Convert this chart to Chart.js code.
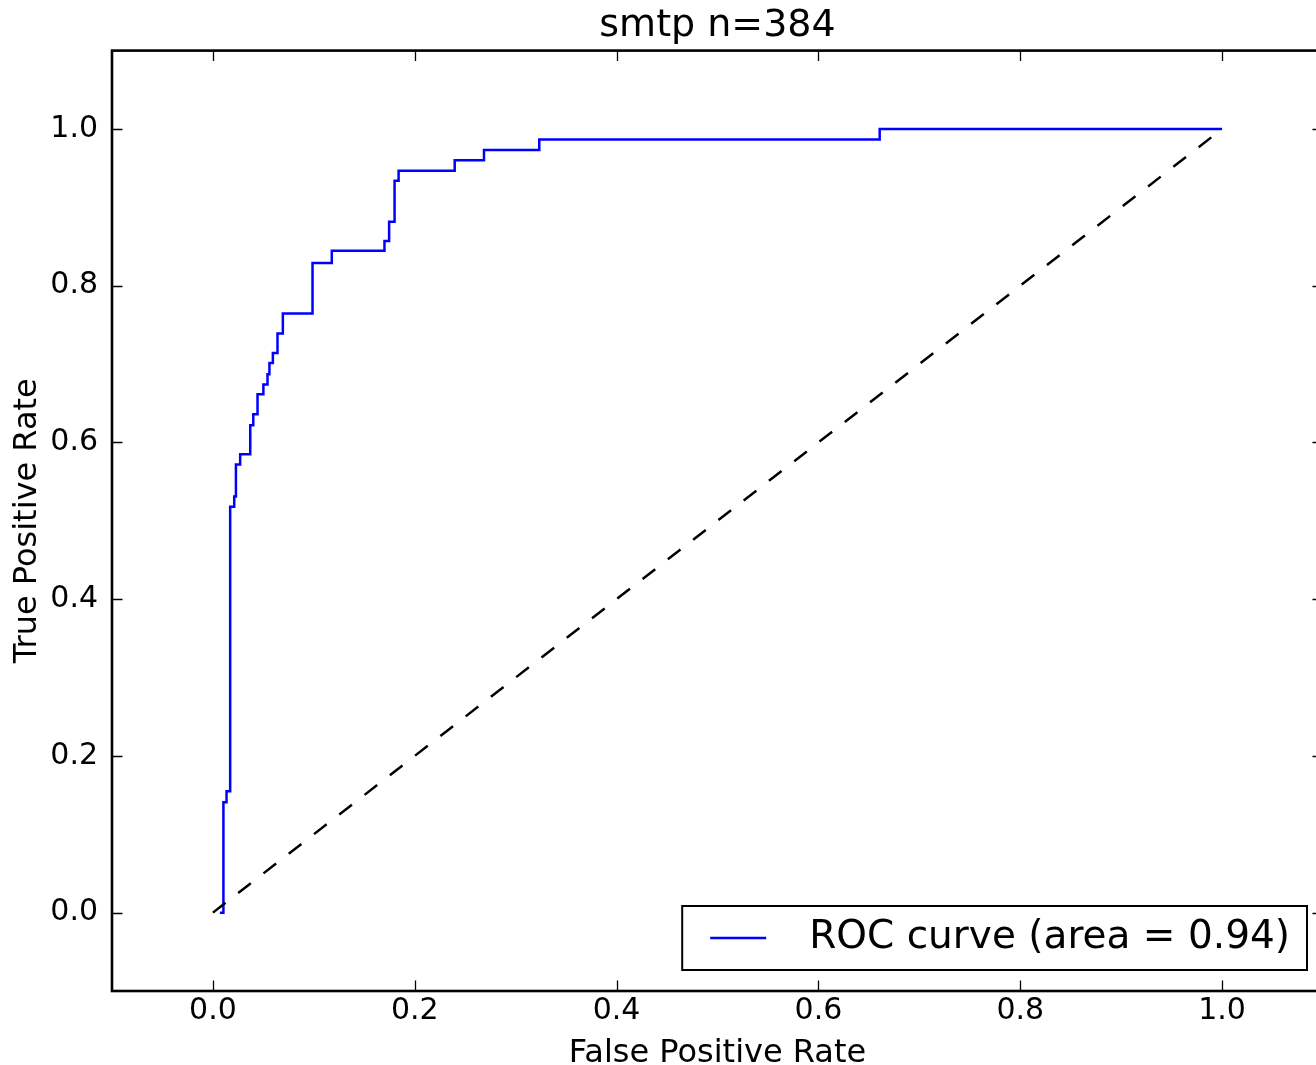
<!DOCTYPE html>
<html>
<head>
<meta charset="utf-8">
<script src="https://cdn.jsdelivr.net/npm/chart.js@4/dist/chart.umd.min.js"></script>
<style>
  html, body { margin: 0; padding: 0; background: #fff; overflow: hidden; }
  canvas { display: block; }
</style>
</head>
<body>
<canvas id="roc" width="1330" height="1065"></canvas>
<script>

// roc points (corners of the step curve)
var fpr = [0.0069, 0.0104, 0.0104, 0.0135, 0.0135, 0.0171, 0.0171, 0.0211, 0.0211, 0.0228, 0.0228,
           0.027, 0.027, 0.037, 0.037, 0.040, 0.040, 0.0442, 0.0442, 0.050, 0.050, 0.0541, 0.0541,
           0.056, 0.056, 0.0594, 0.0594, 0.064, 0.064, 0.0693, 0.0693, 0.0987, 0.0987, 0.1178, 0.1178,
           0.170, 0.170, 0.1746, 0.1746, 0.180, 0.180, 0.184, 0.184, 0.2396, 0.2396, 0.2686, 0.2686,
           0.3234, 0.3234, 0.6607, 0.6607, 1.0];
var tpr = [0, 0, 0.141, 0.141, 0.155, 0.155, 0.518, 0.518, 0.531, 0.531, 0.572,
           0.572, 0.585, 0.585, 0.622, 0.622, 0.636, 0.636, 0.6615, 0.6615, 0.674, 0.674, 0.687,
           0.687, 0.7015, 0.7015, 0.714, 0.714, 0.739, 0.739, 0.7645, 0.7645, 0.829, 0.829, 0.8446,
           0.8446, 0.857, 0.857, 0.8816, 0.8816, 0.934, 0.934, 0.9467, 0.9467, 0.96, 0.96, 0.9733,
           0.9733, 0.9867, 0.9867, 1.0, 1.0];
var chanceX = [0, 1];
var chanceY = [0, 1];
var xTicks = [0, 0.2, 0.4, 0.6, 0.8, 1.0];
var yTicks = [0, 0.2, 0.4, 0.6, 0.8, 1.0];
var rocLabel = 'ROC curve (area = 0.94)';

var fontFam = '"DejaVu Sans", sans-serif';

function pts(xs, ys){
	return xs.map(function(x, i){ return {x: x, y: ys[i]}; });
}

// axes box + inward ticks on all four sides, like the classic matplotlib look
var frameTicks = {
	id: 'frameTicks',
	afterDraw: function(chart){
		var ctx = chart.ctx, a = chart.chartArea;
		var sx = chart.scales.x, sy = chart.scales.y;
		var len = 10.5;
		ctx.save();
		ctx.strokeStyle = '#000';
		ctx.lineWidth = 1.3;
		ctx.beginPath();
		xTicks.forEach(function(v){
			var px = Math.round(sx.getPixelForValue(v)) + 0.5;
			ctx.moveTo(px, a.bottom); ctx.lineTo(px, a.bottom - len);
			ctx.moveTo(px, a.top); ctx.lineTo(px, a.top + len);
		});
		yTicks.forEach(function(v){
			var py = Math.round(sy.getPixelForValue(v)) + 0.5;
			ctx.moveTo(a.left, py); ctx.lineTo(a.left + len, py);
			ctx.moveTo(a.right, py); ctx.lineTo(a.right - len, py);
		});
		ctx.stroke();
		ctx.lineWidth = 2.6;
		ctx.strokeRect(a.left, a.top, a.right - a.left, a.bottom - a.top);
		ctx.restore();
	}
};

// legend box in the lower right corner of the plot
var boxLegend = {
	id: 'boxLegend',
	afterDraw: function(chart){
		var ctx = chart.ctx, a = chart.chartArea;
		var ds = chart.data.datasets[0];
		ctx.save();
		ctx.font = '39px ' + fontFam;
		var tw = ctx.measureText(ds.label).width;
		var w = 28 + 56 + 43 + tw + 17;
		var h = 64;
		var right = a.right - 16, bottom = a.bottom - 21;
		var left = right - w, top = bottom - h;
		ctx.fillStyle = '#fff';
		ctx.fillRect(left, top, w, h);
		ctx.strokeStyle = '#000';
		ctx.lineWidth = 2;
		ctx.strokeRect(left, top, w, h);
		var cy = top + h / 2;
		ctx.strokeStyle = ds.borderColor;
		ctx.lineWidth = ds.borderWidth;
		ctx.beginPath();
		ctx.moveTo(left + 28, cy); ctx.lineTo(left + 84, cy);
		ctx.stroke();
		ctx.fillStyle = '#000';
		ctx.textBaseline = 'middle';
		ctx.fillText(ds.label, left + 127, cy);
		ctx.restore();
	}
};

new Chart(document.getElementById('roc'), {
	type: 'line',
	data: {
		datasets: [{
			label: rocLabel,
			data: pts(fpr, tpr),
			borderColor: '#0000ff',
			borderWidth: 2.5,
			pointRadius: 0,
			fill: false,
			tension: 0,
			order: 1
		}, {
			label: 'chance',
			data: pts(chanceX, chanceY),
			borderColor: '#000',
			borderWidth: 2.5,
			borderDash: [16, 16],
			pointRadius: 0,
			fill: false,
			order: 0
		}]
	},
	options: {
		responsive: false,
		animation: false,
		layout: { padding: { left: 0, right: 7, top: 0, bottom: 0 } },
		plugins: {
			legend: { display: false },
			tooltip: { enabled: false },
			title: {
				display: true,
				fullSize: false,
				text: 'smtp n=384',
				color: '#000',
				font: { family: fontFam, size: 38, weight: 'normal', lineHeight: 1.2 },
				padding: { top: 3, bottom: 2 }
			}
		},
		scales: {
			x: {
				type: 'linear',
				min: -0.1,
				max: 1.1,
				grid: { display: false, tickLength: 0 },
				border: { display: false },
				afterBuildTicks: function(s){ s.ticks = xTicks.map(function(v){ return {value: v}; }); },
				afterFit: function(s){ s.height = 74; },
				ticks: {
					padding: 2,
					color: '#000',
					font: { family: fontFam, size: 30 },
					maxRotation: 0,
					callback: function(v){ return Number(v).toFixed(1); }
				},
				title: {
					display: true,
					text: 'False Positive Rate',
					color: '#000',
					font: { family: fontFam, size: 32, lineHeight: 1 },
					padding: { top: 0, bottom: -5 }
				}
			},
			y: {
				type: 'linear',
				min: -0.1,
				max: 1.1,
				grid: { display: false, tickLength: 0 },
				border: { display: false },
				afterBuildTicks: function(s){ s.ticks = yTicks.map(function(v){ return {value: v}; }); },
				afterFit: function(s){ s.width = 112; },
				ticks: {
					padding: 14,
					color: '#000',
					font: { family: fontFam, size: 30 },
					callback: function(v){ return Number(v).toFixed(1); }
				},
				title: {
					display: true,
					text: 'True Positive Rate',
					color: '#000',
					font: { family: fontFam, size: 32, lineHeight: 1 },
					padding: { top: 12, bottom: 0 }
				}
			}
		}
	},
	plugins: [frameTicks, boxLegend]
});

</script>
</body>
</html>
